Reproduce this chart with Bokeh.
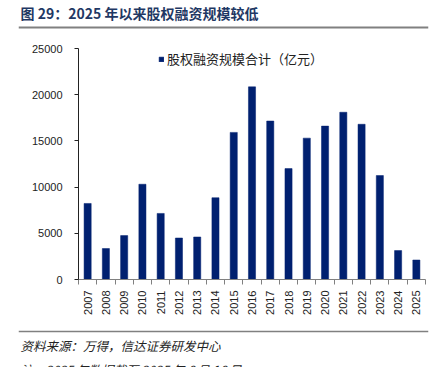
import math
from bokeh.plotting import figure
from bokeh.models import (ColumnDataSource, FixedTicker, Label,
                          Legend, LegendItem, Range1d, NumeralTickFormatter)
from bokeh.embed import file_html
from bokeh.resources import INLINE

years = ["2007", "2008", "2009", "2010", "2011", "2012", "2013", "2014", "2015",
         "2016", "2017", "2018", "2019", "2020", "2021", "2022", "2023", "2024", "2025"]
values = [8230, 3350, 4750, 10310, 7150, 4490, 4600, 8850, 15920,
          20850, 17150, 12000, 15300, 16600, 18100, 16800, 11250, 3130, 2110]
y_ticks = [0, 5000, 10000, 15000, 20000, 25000]
series_name = "股权融资规模合计（亿元）"
title_text = "图 29：2025 年以来股权融资规模较低"
source_text = "资料来源：万得，信达证券研发中心"
note_text = "注：2025 年数据截至 2025 年 6 月 16 日"

W = 438
HEAD_H, CHART_H, FOOT_H = 40, 282, 45
CJK = "Noto Sans CJK SC"
LAT = "Liberation Sans"
RULE_L, RULE_R = 18, 428


def blank(h, rule_y, rule_width):
    # text panel (y measured from its top) with a horizontal rule across its frame
    f = figure(width=W, height=h, output_backend="svg", toolbar_location=None,
               x_range=Range1d(RULE_L, RULE_R), y_range=Range1d(h, 0),
               x_axis_type=None, y_axis_type=None, min_border=0,
               min_border_left=RULE_L, min_border_right=W - RULE_R,
               min_border_top=0, min_border_bottom=0)
    f.outline_line_color = None
    f.grid.visible = False
    f.hspan(y=[rule_y], line_color="#808080", line_width=rule_width)
    return f


# ---------- header ----------
head = blank(HEAD_H, 27, 2)
head.add_layout(Label(x=20, y=12.5, text=title_text, text_font=CJK,
                      text_font_size="14px", text_font_style="bold",
                      text_color="#1f3864", text_baseline="middle"))

# ---------- chart ----------
FL, FT, FB, FR = 78, 8, 239, 425   # frame edges inside the chart figure
p = figure(width=W, height=CHART_H, output_backend="svg", toolbar_location=None,
           x_range=Range1d(-0.5, len(years) - 0.5), y_range=Range1d(0, 25000),
           min_border_left=FL, min_border_right=W - FR, min_border_top=FT,
           min_border_bottom=CHART_H - FB)
p.outline_line_color = None
p.xgrid.grid_line_color = None
p.ygrid.grid_line_color = None

xs = list(range(len(years)))
src = ColumnDataSource(dict(x=xs, v=values, year=years))
r = p.vbar(x="x", top="v", width=0.39, source=src, fill_color="#002070",
           line_color="#002070", line_width=0.5)

xa = p.xaxis[0]
xa.ticker = FixedTicker(ticks=xs, minor_ticks=[i - 0.5 for i in range(len(years) + 1)])
xa.major_label_overrides = {i: y for i, y in enumerate(years)}
xa.major_tick_line_color = None
xa.minor_tick_out = 5
xa.minor_tick_in = 0
xa.minor_tick_line_color = "#808080"
xa.axis_line_color = "#808080"
xa.major_label_orientation = math.pi / 2
xa.major_label_text_font = LAT
xa.major_label_text_font_size = "11px"
xa.major_label_text_color = "#222222"
xa.major_label_standoff = 5

ya = p.yaxis[0]
ya.ticker = FixedTicker(ticks=y_ticks)
ya.formatter = NumeralTickFormatter(format="0")
ya.major_tick_out = 4
ya.major_tick_in = 0
ya.minor_tick_line_color = None
ya.axis_line_color = "#222222"
ya.major_tick_line_color = "#222222"
ya.major_label_text_font = LAT
ya.major_label_text_font_size = "11px"
ya.major_label_text_color = "#222222"
ya.major_label_standoff = 12

legend = Legend(items=[LegendItem(label=series_name, renderers=[r])],
                location=(80, 211), glyph_width=6, glyph_height=6,
                label_text_font=CJK, label_text_font_size="13px",
                label_text_color="#222222", label_standoff=3,
                border_line_color=None, background_fill_alpha=0,
                padding=0, margin=0, label_height=12)
p.add_layout(legend)

# ---------- footer ----------
foot = blank(FOOT_H, 9, 1.5)
foot.add_layout(Label(x=20, y=23, text=source_text, text_font=CJK,
                      text_font_size="12.5px", text_font_style="italic",
                      text_color="#222222", text_baseline="middle"))
foot.add_layout(Label(x=20, y=47, text=note_text, text_font=CJK,
                      text_font_size="12.5px", text_font_style="italic",
                      text_color="#222222", text_baseline="middle"))

# separate roots so that the frames are not aligned with each other
open("out.html", "w").write(file_html([head, p, foot], INLINE))
